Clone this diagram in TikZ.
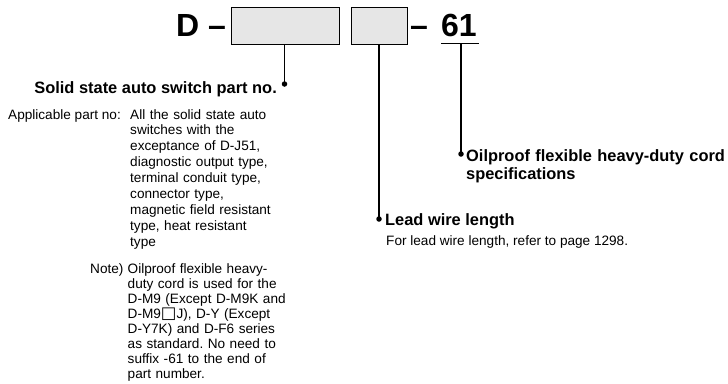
\documentclass[tikz,border=0pt]{standalone}
\usepackage{fontspec}
\setmainfont{Liberation Sans}
\newfontfamily\symfont{DejaVu Sans}
\definecolor{boxgray}{RGB}{230,230,230}
\frenchspacing
\begin{document}
\begin{tikzpicture}[x=1pt,y=-1pt,
  big/.style={inner sep=0pt,font={\fontsize{32}{36}\selectfont\bfseries}},
  head/.style={inner sep=0pt,font={\fontsize{16.4}{18}\selectfont\bfseries}},
  body/.style={inner sep=0pt,font={\fontsize{13.6}{16}\selectfont}},
  blockA/.style={inner sep=0pt,text width=220pt,align=left,font={\fontsize{13.6}{15.9}\selectfont\frenchspacing}},
  blockB/.style={inner sep=0pt,text width=220pt,align=left,font={\fontsize{13.6}{15}\selectfont\frenchspacing}},
  field/.style={draw=black,line width=1pt,fill=boxgray},
  conn/.style={line width=1.3pt},
  dotc/.style={circle,fill=black,inner sep=0pt,minimum size=5.5pt}]
\useasboundingbox (0,0) rectangle (728,383);
% top code
\node[big,anchor=base west] (D) at (176,36) {D};
\node[big,anchor=base west] (dash1) at (208,36) {–};
\node[field,anchor=north west,minimum width=108pt,minimum height=37pt,inner sep=0pt] (b1) at (231,7) {};
\node[field,anchor=north west,minimum width=56pt,minimum height=37pt,inner sep=0pt] (b2) at (351,7) {};
\node[big,anchor=base west] (dash2) at (410,36) {–};
\node[big,anchor=base west] (n61) at (441,36) {61};
\coordinate (ulL) at (441,43);
\coordinate (ulR) at (479,43);
\draw[line width=1pt] (ulL) -- (ulR);
\coordinate (ulM) at (461,43);
% dots
\node[dotc] (d1) at (284.5,84) {};
\node[dotc] (d2) at (379,219) {};
\node[dotc] (d3) at (461,154) {};
\draw[conn] (b1.south -| d1) -- (d1.center);
\draw[conn] (b2.south -| d2) -- (d2.center);
\draw[conn] (ulM) -- (d3.center);
% labels
\node[head,anchor=base east] (t1) at (277,93) {Solid state auto switch part no.};
\node[body,anchor=base west] (app) at (8,119) {Applicable part no:};
\node[blockA,anchor=base west] (appl) at (130,119) {All the solid state auto\\switches with the\\exceptance of D-J51,\\diagnostic output type,\\terminal conduit type,\\connector type,\\magnetic field resistant\\type, heat resistant\\type};
\node[body,anchor=base west] (note) at (90,273) {Note)};
\node[blockB,anchor=base west] (notet) at (127.5,273) {Oilproof flexible heavy-\\duty cord is used for the\\D-M9 (Except D-M9K and\\D-M9{\symfont\fontsize{16.5}{15}\selectfont □}J), D-Y (Except\\D-Y7K) and D-F6 series\\as standard. No need to\\suffix -61 to the end of\\part number.};
\node[head,anchor=base west,text width=280pt,align=left] (t3) at (466,161) {Oilproof flexible heavy-duty cord\\specifications};
\node[head,anchor=base west] (t2) at (385,225) {Lead wire length};
\node[body,anchor=base west] (t2b) at (386,245) {For lead wire length, refer to page 1298.};
\end{tikzpicture}
\end{document}
